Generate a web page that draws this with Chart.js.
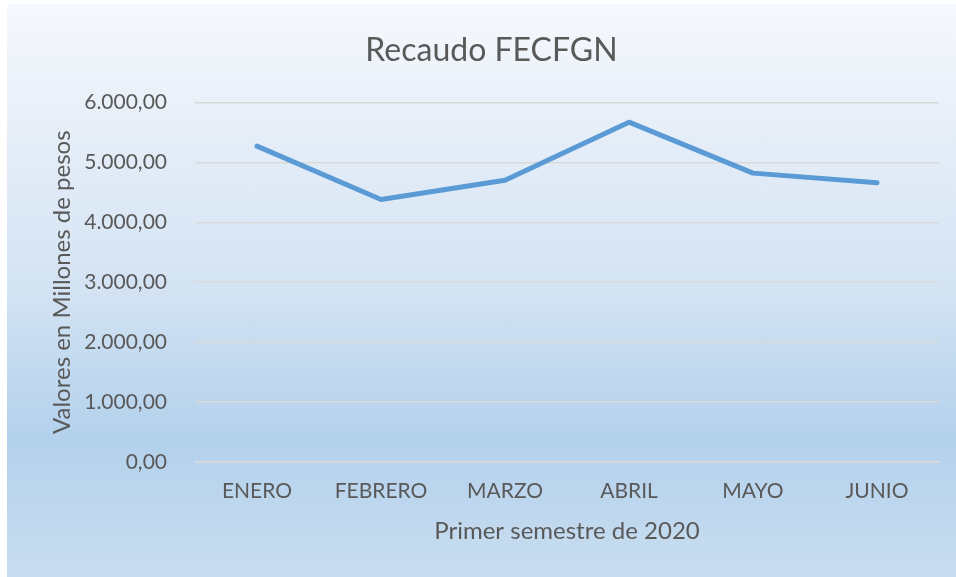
<!DOCTYPE html>
<html>
<head>
<meta charset="utf-8">
<script src="https://cdn.jsdelivr.net/npm/chart.js@4/dist/chart.umd.min.js"></script>
<style>
  html, body { margin: 0; padding: 0; background: #fff; }
  #box {
    position: absolute; left: 7px; top: 4px; width: 949px; height: 573px;
    background: linear-gradient(to bottom, #f6f9fd 0%, #e6eef8 22%, #d3e3f3 50%, #b3d1ec 76%, #c9ddf0 100%);
  }
  canvas { display: block; }
</style>
</head>
<body>
<div id="box"><canvas id="c" width="949" height="573"></canvas></div>
<script>
// Recaudo FECFGN - primer semestre 2020
const meses = ['ENERO', 'FEBRERO', 'MARZO', 'ABRIL', 'MAYO', 'JUNIO'];
const recaudo = [5270, 4380, 4700, 5670, 4820, 4660];
const yTicks = [0, 1000, 2000, 3000, 4000, 5000, 6000];

const TEXT = '#595959';
const GRID = '#d9d9d9';
const FONT = 'Lato';

function fmt(v) {
  return v.toLocaleString('de-DE', { minimumFractionDigits: 2, maximumFractionDigits: 2 });
}

Chart.defaults.font.family = FONT;
Chart.defaults.color = TEXT;

new Chart(document.getElementById('c').getContext('2d'), {
  type: 'line',
  data: {
    labels: meses,
    datasets: [{
      label: 'Recaudo',
      data: recaudo,
      borderColor: '#5b9bd5',
      borderWidth: 5,
      borderCapStyle: 'round',
      borderJoinStyle: 'round',
      pointRadius: 0,
      tension: 0,
    }],
  },
  options: {
    responsive: false,
    animation: false,
    layout: { padding: { left: 37, right: 17, top: 0, bottom: 31 } },
    plugins: {
      legend: { display: false },
      tooltip: { enabled: false },
      title: {
        display: true,
        text: 'Recaudo FECFGN',
        color: TEXT,
        font: { size: 32, weight: 'normal' },
        padding: { top: 27, bottom: 33 },
      },
    },
    scales: {
      x: {
        offset: true,
        grid: { display: false },
        border: { color: GRID, width: 1.5 },
        ticks: { font: { size: 21 }, color: TEXT, padding: 9 },
        title: {
          display: true,
          text: 'Primer semestre de 2020',
          color: TEXT,
          font: { size: 24 },
          padding: { top: 0, bottom: 0 },
        },
        afterFit: s => { s.height = 84; },
      },
      y: {
        min: 0,
        max: 6000,
        afterBuildTicks: s => { s.ticks = yTicks.map(v => ({ value: v })); },
        grid: { color: GRID, lineWidth: 1.5, drawTicks: false },
        border: { display: false },
        ticks: { font: { size: 21 }, color: TEXT, padding: 28, callback: v => fmt(v) },
        title: {
          display: true,
          text: 'Valores en Millones de pesos',
          color: TEXT,
          font: { size: 24 },
          padding: { top: 4, bottom: 0 },
        },
        afterFit: s => { s.width = 151; },
      },
    },
  },
});
</script>
</body>
</html>
